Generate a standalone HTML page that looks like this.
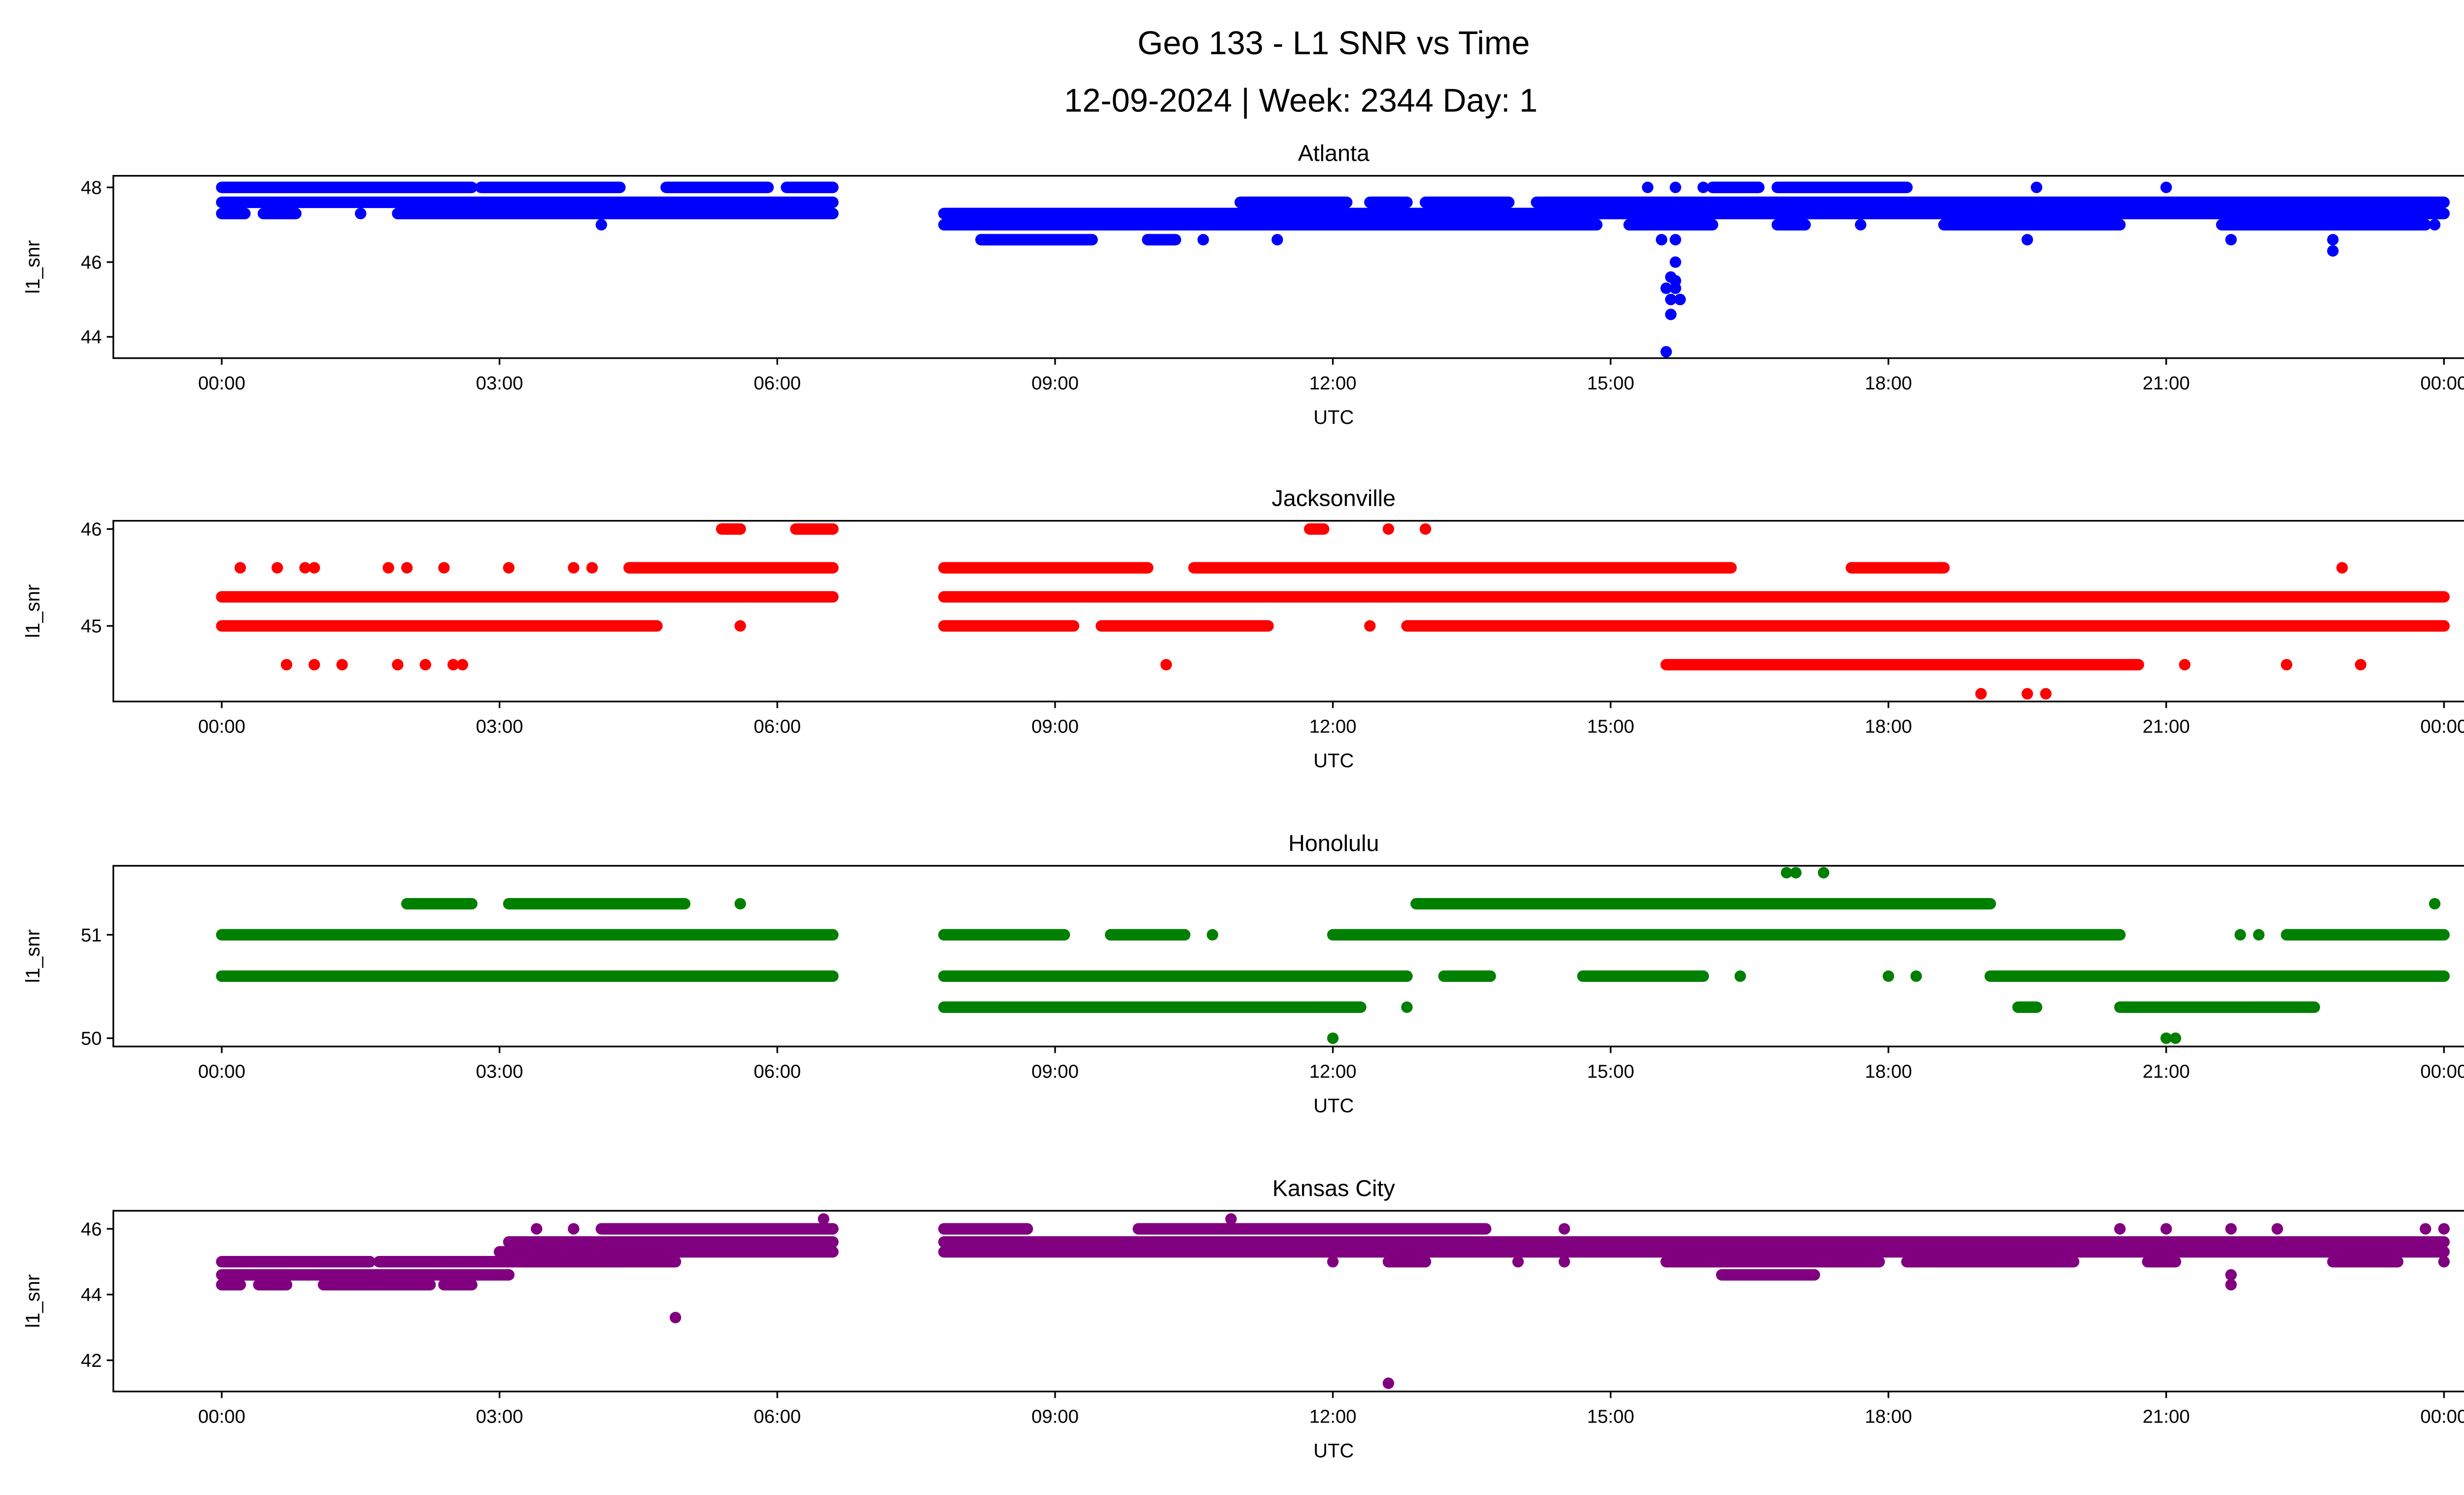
<!DOCTYPE html>
<html><head><meta charset="utf-8"><style>
html,body{margin:0;padding:0;background:#fff}
svg{display:block;font-family:"Liberation Sans","DejaVu Sans",sans-serif}
</style></head><body>
<svg id="chart" width="5226" height="3033" viewBox="0 0 1568 910" xmlns="http://www.w3.org/2000/svg">
<text x="812" y="33" font-size="20" text-anchor="middle">Geo 133 - L1 SNR vs Time</text>
<text x="792" y="68" font-size="20" text-anchor="middle">12-09-2024 | Week: 2344 Day: 1</text>
<g id="plots"></g>
</svg>
<script>
// time ticks (hours) and labels
const timeTicks = [0,3,6,9,12,15,18,21,24];
const timeLabels = ["00:00","03:00","06:00","09:00","12:00","15:00","18:00","21:00","00:00"];
// runs of continuous samples: [startHour, endHour, snr]
const atlantaRuns = [[0,2.7,48],[2.8,4.3,48],[4.8,5.9,48],[6.1,6.6,48],[0,6.6,47.6],[0,0.25,47.3],[0.45,0.8,47.3],[1.5,1.5,47.3],[1.9,6.6,47.3],
 [7.8,24,47.3],[7.8,14.85,47],[15.2,16.1,47],[16.8,17.1,47],[18.6,20.5,47],[21.6,23.8,47],[8.2,9.4,46.6],[10.0,10.3,46.6],
 [11.0,12.15,47.6],[12.4,12.8,47.6],[13.0,13.9,47.6],[14.2,24,47.6],[16.1,16.6,48],[16.8,18.2,48]];
const atlantaPoints = [[4.1,47],[4.2,48],[10.6,46.6],[11.4,46.6],[15.4,48],[15.7,48],[16.0,48],[19.6,48],[21.0,48],[17.7,47],[19.9,47],[23.9,47],
 [15.55,46.6],[15.7,46.6],[19.5,46.6],[21.7,46.6],[22.8,46.6],[22.8,46.3],
 [15.7,46],[15.65,45.6],[15.7,45.3],[15.6,45.3],[15.65,45],[15.75,45],[15.7,45.5],[15.65,44.6],[15.6,43.6]];
const jaxRuns = [[0,6.6,45.3],[7.8,24,45.3],[0,4.7,45],[7.8,9.2,45],[9.5,11.3,45],[12.8,24,45],[4.4,6.6,45.6],[7.8,10.0,45.6],[10.5,16.3,45.6],[17.6,18.6,45.6],
 [15.6,20.7,44.6],[5.4,5.6,46],[6.2,6.6,46],[11.75,11.9,46]];
const jaxPoints = [[0.2,45.6],[0.6,45.6],[0.9,45.6],[1.0,45.6],[1.8,45.6],[2.0,45.6],[2.4,45.6],[3.1,45.6],[3.8,45.6],[4.0,45.6],[0.7,44.6],[1.0,44.6],[1.3,44.6],[1.9,44.6],[2.2,44.6],[2.5,44.6],[2.6,44.6],
 [5.6,45],[10.2,44.6],[12.4,45],[12.6,46],[13.0,46],[21.2,44.6],[22.3,44.6],[22.9,45.6],[23.1,44.6],[19.0,44.3],[19.5,44.3],[19.7,44.3]];
const honRuns = [[0,6.6,51],[0,6.6,50.6],[7.8,9.1,51],[9.6,10.4,51],[12.0,20.5,51],[22.3,24,51],[7.8,12.8,50.6],[14.7,16.0,50.6],[19.1,24,50.6],[13.2,13.7,50.6],
 [7.8,12.3,50.3],[20.5,22.6,50.3],[19.4,19.6,50.3],[2.0,2.7,51.3],[3.1,5.0,51.3],[12.9,19.1,51.3]];
const honPoints = [[5.6,51.3],[10.7,51],[21.8,51],[22.0,51],[23.9,51.3],[16.4,50.6],[18.0,50.6],[18.3,50.6],[12.0,50],[21.0,50],[21.1,50],[12.8,50.3],[16.9,51.6],[17.0,51.6],[17.3,51.6]];
const kcRuns = [[0,3.1,44.6],[0,1.6,45],[1.7,4.9,45],[0,0.2,44.3],[0.4,0.7,44.3],[1.1,2.25,44.3],[2.4,2.7,44.3],[3.0,6.6,45.3],[3.1,6.6,45.6],[4.1,6.6,46],
 [7.8,24,45.6],[7.8,24,45.3],[7.8,8.7,46],[9.9,13.65,46],[15.6,17.9,45],[18.2,20.0,45],[20.8,21.1,45],[22.8,23.5,45],[16.2,17.2,44.6],[12.6,13.0,45]];
const kcPoints = [[3.4,46],[3.8,46],[4.9,43.3],[6.5,46.3],[10.9,46.3],[12.6,41.3],[14.5,46],[12.0,45],[14.0,45],[14.5,45],[20.5,46],[21.0,46],[21.7,46],[21.7,44.6],[21.7,44.3],[22.2,46],[23.8,46],[24.0,46],[24.0,45]];

const panels = [
 {name:"Atlanta",color:"#0000ff",top:107,bottom:218,ymin:43.43,ymax:48.31,ticks:[44,46,48],runs:atlantaRuns,pts:atlantaPoints},
 {name:"Jacksonville",color:"#ff0000",top:317,bottom:427,ymin:44.22,ymax:46.085,ticks:[45,46],runs:jaxRuns,pts:jaxPoints},
 {name:"Honolulu",color:"#008000",top:527,bottom:637,ymin:49.92,ymax:51.667,ticks:[50,51],runs:honRuns,pts:honPoints},
 {name:"Kansas City",color:"#800080",top:737,bottom:847,ymin:41.05,ymax:46.55,ticks:[42,44,46],runs:kcRuns,pts:kcPoints}
];
const L=69,R=1556;
const xs = h => 135 + h*(1488-135)/24;
const NS="http://www.w3.org/2000/svg";
const root=document.getElementById('plots');
function mk(tag,attrs,parent){const e=document.createElementNS(NS,tag);for(const k in attrs)e.setAttribute(k,attrs[k]);parent.appendChild(e);return e;}
panels.forEach((p,i)=>{
 const ys = v => p.bottom - (v-p.ymin)/(p.ymax-p.ymin)*(p.bottom-p.top);
 const g=mk('g',{},root);
 
 
 const marks=mk('g',{stroke:p.color,fill:p.color,'stroke-linecap':'round','stroke-width':7},g);
 
 
 p.runs.forEach(r=>{const l=mk('line',{x1:xs(r[0]),x2:xs(r[1]),y1:ys(r[2]),y2:ys(r[2])},marks);
  
  });
 p.pts.forEach(q=>{const c=mk('circle',{cx:xs(q[0]),cy:ys(q[1]),r:3.5,stroke:'none'},marks);
  
  });
 const frame=mk('rect',{x:L,y:p.top,width:R-L,height:p.bottom-p.top,fill:'none',stroke:'#000','stroke-width':1},g);
 
 
 timeTicks.forEach((t,j)=>{const x=xs(t);
  mk('line',{x1:x,x2:x,y1:p.bottom,y2:p.bottom+4,stroke:'#000'},g);
  const tl=mk('text',{x:x,y:p.bottom+19,'font-size':11.5,'text-anchor':'middle'},g);tl.textContent=timeLabels[j];
  
  });
 p.ticks.forEach(v=>{const y=ys(v);
  mk('line',{x1:L-4,x2:L,y1:y,y2:y,stroke:'#000'},g);
  const tl=mk('text',{x:L-7,y:y+4,'font-size':11.5,'text-anchor':'end'},g);tl.textContent=v;
  
  });
 const xt=mk('text',{x:812,y:p.bottom+40,'font-size':12,'text-anchor':'middle'},g);xt.textContent='UTC';
 
 
 const cy=(p.top+p.bottom)/2;
 const yt=mk('text',{x:24,y:cy,'font-size':12,'text-anchor':'middle',transform:`rotate(-90 24 ${cy})`},g);yt.textContent='l1_snr';
 
 
 const tt=mk('text',{x:812,y:p.top-9,'font-size':14,'text-anchor':'middle'},g);tt.textContent=p.name;
 
 
});
</script>
</body></html>
